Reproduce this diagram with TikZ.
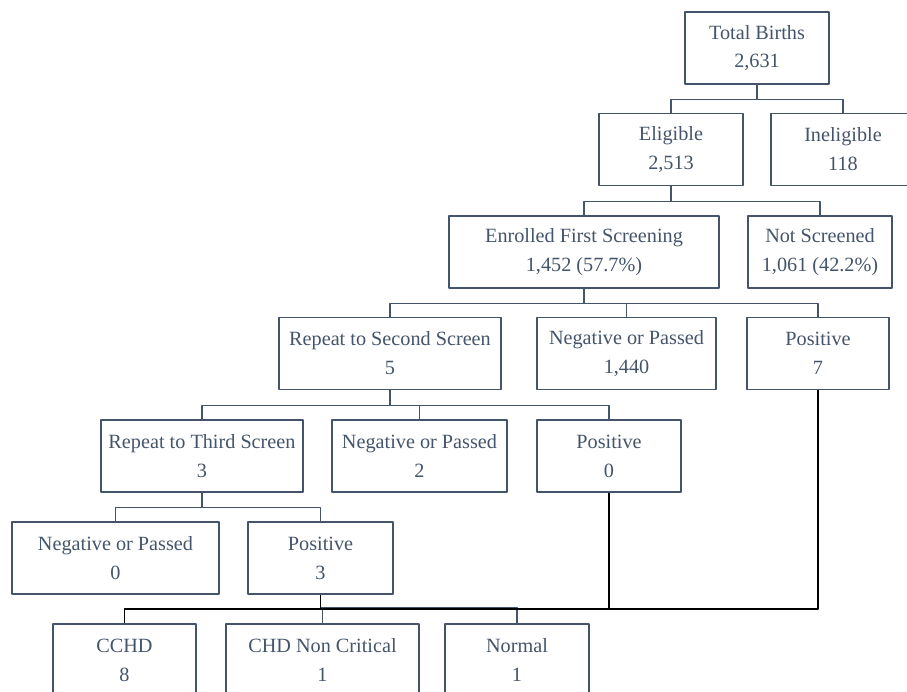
\documentclass[tikz,border=0pt]{standalone}
\usepackage{fontspec}
\setmainfont{LiberationSerif-Regular.ttf}
\usepackage{tikz}
\usetikzlibrary{positioning}
\definecolor{boxcol}{RGB}{68,84,106}

\begin{document}
\begin{tikzpicture}[x=1bp,y=-1bp,line join=bevel,
  box/.style={draw=boxcol,text=boxcol,line width=1.5bp,align=center,
    minimum height=72bp,inner sep=0pt,font=\fontsize{20.3}{29}\selectfont},
  link/.style={draw=boxcol,line width=1.2bp},
  hard/.style={draw=black,line width=1.5bp}]
\useasboundingbox (0,0) rectangle (907,692);
%%
  % Node: Total Births
  \node[box,minimum width=144bp] (tb) at (757,48) {Total Births\\2,631};
  % Node: Eligible
  \node[box,minimum width=144bp] (elig) at (671,149.5) {Eligible\\2,513};
  % Node: Ineligible
  \node[box,minimum width=144bp] (inel) at (843,149.5) {Ineligible\\118};
  % Node: Enrolled First Screening
  \node[box,minimum width=270bp] (enr) at (584,252) {Enrolled First Screening\\1,452 (57.7\%)};
  % Node: Not Screened
  \node[box,minimum width=144bp] (nscr) at (820,252) {Not Screened\\1,061 (42.2\%)};
  % Node: Repeat to Second Screen
  \node[box,minimum width=222bp] (rep2) at (390,353.5) {Repeat to Second Screen\\5};
  % Node: Negative or Passed (1,440)
  \node[box,minimum width=179bp] (neg1) at (626.5,353.5) {Negative or Passed\\1,440};
  % Node: Positive (7)
  \node[box,minimum width=142bp] (pos7) at (818,353.5) {Positive\\7};
  % Node: Repeat to Third Screen
  \node[box,minimum width=202bp] (rep3) at (202,456) {Repeat to Third Screen\\3};
  % Node: Negative or Passed (2)
  \node[box,minimum width=175bp] (neg2) at (419.5,456) {Negative or Passed\\2};
  % Node: Positive (0)
  \node[box,minimum width=144bp] (pos0) at (609,456) {Positive\\0};
  % Node: Negative or Passed (0)
  \node[box,minimum width=207bp] (neg0) at (115.5,558) {Negative or Passed\\0};
  % Node: Positive (3)
  \node[box,minimum width=145bp] (pos3) at (320.5,558) {Positive\\3};
  % Node: CCHD
  \node[box,minimum width=143bp] (cchd) at (124.5,660) {CCHD\\8};
  % Node: CHD Non Critical
  \node[box,minimum width=193bp] (chd) at (322.5,660) {CHD Non Critical\\1};
  % Node: Normal
  \node[box,minimum width=144bp] (norm) at (517,660) {Normal\\1};
%%
  % Edge: Total Births -> Eligible, Ineligible
  \draw[link] (tb.south) -- ++(0,15) -| (elig.north);
  \draw[link] (tb.south) -- ++(0,15) -| (inel.north);
  % Edge: Eligible -> Enrolled, Not Screened
  \draw[link] (elig.south) -- ++(0,15) -| (enr.north);
  \draw[link] (elig.south) -- ++(0,15) -| (nscr.north);
  % Edge: Enrolled -> second row
  \draw[link] (enr.south) -- ++(0,15) -| (rep2.north);
  \draw[link] (enr.south) -- ++(0,15) -| (neg1.north);
  \draw[link] (enr.south) -- ++(0,15) -| (pos7.north);
  % Edge: Repeat to Second Screen -> third row
  \draw[link] (rep2.south) -- ++(0,15.5) -| (rep3.north);
  \draw[link] (rep2.south) -- ++(0,15.5) -| (neg2.north);
  \draw[link] (rep2.south) -- ++(0,15.5) -| (pos0.north);
  % Edge: Repeat to Third Screen -> fourth row
  \draw[link] (rep3.south) -- ++(0,15) -| (neg0.north);
  \draw[link] (rep3.south) -- ++(0,15) -| (pos3.north);
  % Edge: Positive (3) -> outcomes
  \draw[link] (pos3.south) -- ++(0,13) -| (chd.north);
  \draw[link] (pos3.south) -- ++(0,13) -| (norm.north);
  % Edge: all positives -> outcomes
  \coordinate (bus) at (0,609);
  \draw[hard] (pos7.south) |- (cchd.north |- bus) -- (cchd.north);
  \draw[hard] (pos0.south) -- (pos0.south |- bus);
  \draw[hard] (pos3.south) -- (pos3.south |- bus);
%
\end{tikzpicture}
\end{document}
